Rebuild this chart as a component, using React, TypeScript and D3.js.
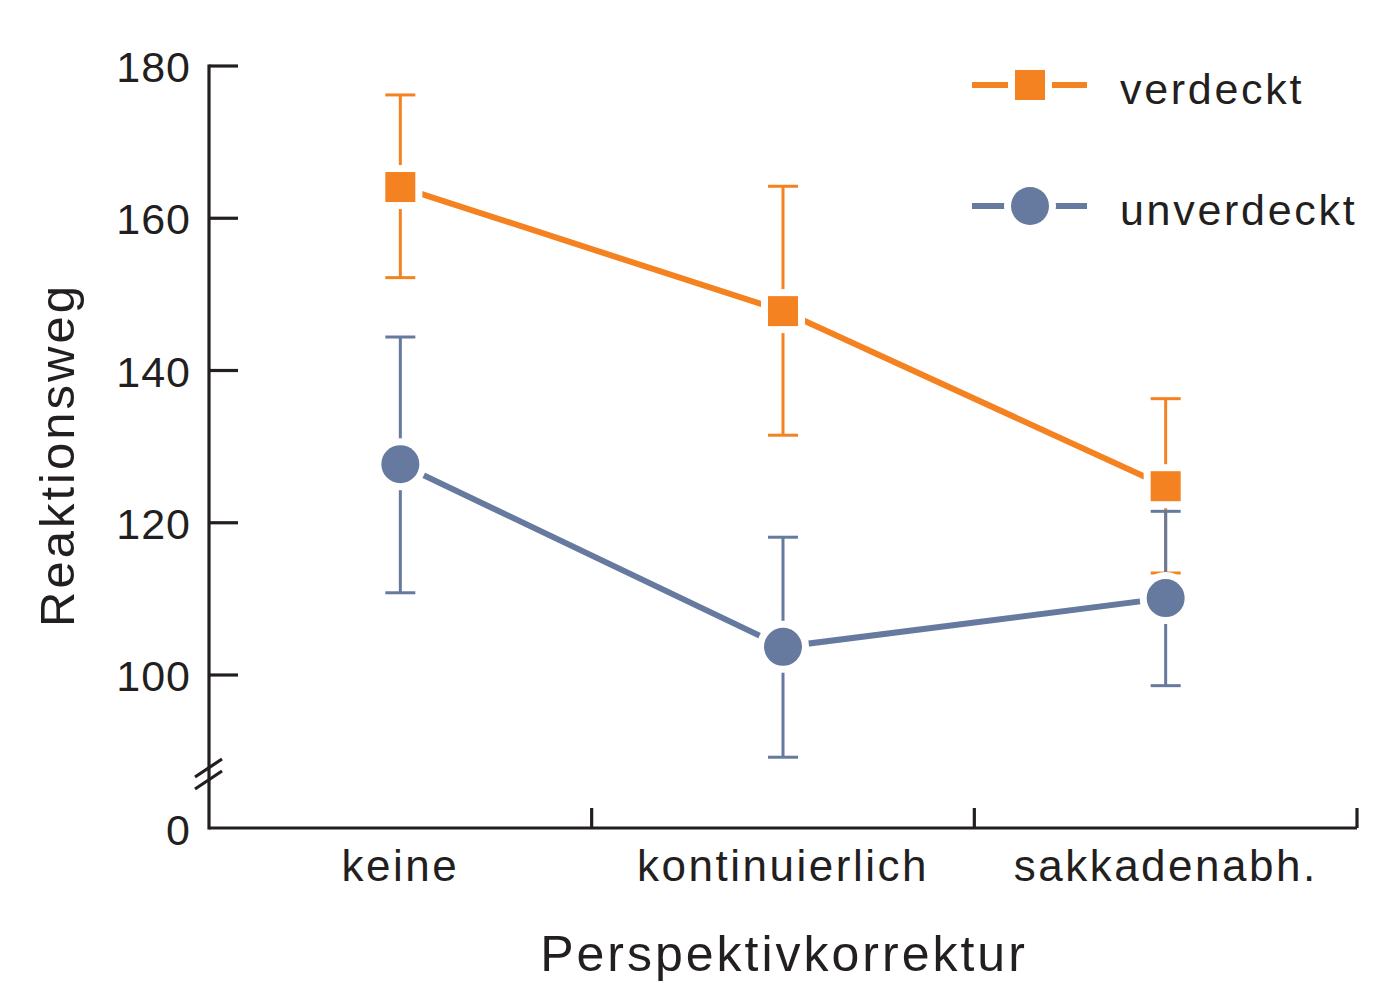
import React from "react";
import * as d3 from "d3";

const categories = ["keine", "kontinuierlich", "sakkadenabh."];
const verdecktMean = [164.1, 147.8, 124.8];
const verdecktUpper = [176.2, 164.2, 136.3];
const verdecktLower = [152.2, 131.5, 113.4];
const unverdecktMean = [127.7, 103.7, 110.1];
const unverdecktUpper = [144.4, 118.1, 121.5];
const unverdecktLower = [110.8, 89.2, 98.6];
const yTicks = [100, 120, 140, 160, 180];
const seriesNames = ["verdeckt", "unverdeckt"];

const ORANGE = "#f58220";
const BLUE = "#66799e";
const INK = "#231f20";
const FONT = "'Liberation Sans', Arial, Helvetica, sans-serif";

export default function App() {
  const x0 = 209;
  const x1 = 1357;
  const yAxisBottom = 828;
  const x = d3.scaleBand<string>().domain(categories).range([x0, x1]).paddingInner(0).paddingOuter(0);
  const y = d3.scaleLinear().domain([100, 180]).range([675, 66]);
  const cx = (c: string) => (x(c) as number) + x.bandwidth() / 2;

  const series = [
    { name: seriesNames[0], color: ORANGE, mean: verdecktMean, up: verdecktUpper, lo: verdecktLower, shape: "square" },
    { name: seriesNames[1], color: BLUE, mean: unverdecktMean, up: unverdecktUpper, lo: unverdecktLower, shape: "circle" },
  ];

  const line = d3
    .line<number>()
    .x((_, i) => cx(categories[i]))
    .y((d) => y(d));

  const marker = (shape: string, px: number, py: number, color: string, key: string) =>
    shape === "square" ? (
      <rect key={key} x={px - 15} y={py - 15} width={30} height={30} fill={color} stroke="#fff" strokeWidth={14} style={{ paintOrder: "stroke" }} />
    ) : (
      <circle key={key} cx={px} cy={py} r={19} fill={color} stroke="#fff" strokeWidth={14} style={{ paintOrder: "stroke" }} />
    );

  return (
    <svg width={1384} height={983} style={{ display: "block", position: "absolute", left: 0, top: 0 }} fontFamily={FONT}>
      <rect width={1384} height={983} fill="#fff" />
      {/* series */}
      {series.map((s) => (
        <g key={s.name}>
          {categories.map((c, i) => (
            <g key={c} stroke={s.color} strokeWidth={3}>
              <line x1={cx(c)} x2={cx(c)} y1={y(s.up[i])} y2={y(s.lo[i])} />
              <line x1={cx(c) - 15} x2={cx(c) + 15} y1={y(s.up[i])} y2={y(s.up[i])} />
              <line x1={cx(c) - 15} x2={cx(c) + 15} y1={y(s.lo[i])} y2={y(s.lo[i])} />
            </g>
          ))}
          <path d={line(s.mean) || ""} fill="none" stroke={s.color} strokeWidth={6} />
          {categories.map((c, i) => marker(s.shape, cx(c), y(s.mean[i]), s.color, c))}
        </g>
      ))}

      {/* axes */}
      <g stroke={INK} strokeWidth={3.2} fill="none">
        <line x1={x0} x2={x0} y1={y(180) - 1.5} y2={yAxisBottom + 1.5} />
        <line x1={x0} x2={x1} y1={yAxisBottom} y2={yAxisBottom} />
        {yTicks.map((t) => (
          <line key={t} x1={x0} x2={x0 + 29} y1={y(t)} y2={y(t)} />
        ))}
        {categories.map((c) => (
          <line key={c} x1={(x(c) as number) + x.bandwidth()} x2={(x(c) as number) + x.bandwidth()} y1={yAxisBottom} y2={yAxisBottom - 20} />
        ))}
        <line x1={195} x2={222} y1={777} y2={759} />
        <line x1={195} x2={222} y1={789} y2={771} />
      </g>
      <g fill={INK} fontSize={43} textAnchor="end" letterSpacing={1}>
        {yTicks.map((t) => (
          <text key={t} x={191} y={y(t) + 16}>
            {t}
          </text>
        ))}
        <text x={191} y={yAxisBottom + 17}>0</text>
      </g>
      <g fill={INK} fontSize={44} textAnchor="middle" letterSpacing={2.5}>
        {categories.map((c) => (
          <text key={c} x={cx(c)} y={881}>
            {c}
          </text>
        ))}
      </g>
      <text x={784} y={971} fontSize={50} textAnchor="middle" letterSpacing={3} fill={INK}>
        Perspektivkorrektur
      </text>
      <text transform="translate(74,455) rotate(-90)" fontSize={49} textAnchor="middle" letterSpacing={3} fill={INK}>
        Reaktionsweg
      </text>

      {/* legend */}
      {series.map((s, i) => {
        const ly = i === 0 ? 85 : 206;
        return (
          <g key={s.name}>
            <line x1={972} x2={1087} y1={ly} y2={ly} stroke={s.color} strokeWidth={6} />
            {marker(s.shape, 1030, ly, s.color, "m")}
            <text x={1120} y={ly + 19} fontSize={43} letterSpacing={2.7} fill={INK}>
              {s.name}
            </text>
          </g>
        );
      })}
    </svg>
  );
}
